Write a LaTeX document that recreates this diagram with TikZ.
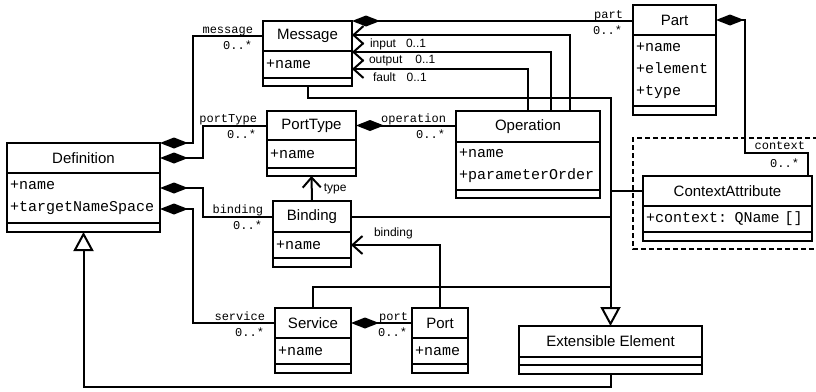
\documentclass[tikz,border=0pt]{standalone}
\usepackage{fontspec}
\setmainfont{Liberation Sans}
\newfontfamily\umlmono{Liberation Mono}
\usepackage{tikz}
\usetikzlibrary{arrows.meta}
\newcommand{\umlname}{\fontsize{15}{18}\selectfont}
\newcommand{\umlattr}{\umlmono\fontsize{15}{22}\selectfont}
\newcommand{\umlrole}{\umlmono\fontsize{12}{14}\selectfont}
\newcommand{\umllbl}{\fontsize{12}{14}\selectfont}
\tikzset{clsname/.style={rectangle, draw, line width=2pt, outer sep=0pt, inner sep=0pt, anchor=north west, font=\umlname}, clsattr/.style={rectangle, draw, line width=2pt, outer sep=0pt, inner xsep=3pt, inner ysep=0pt, anchor=north west, align=left, font=\umlattr}, clsops/.style={rectangle, draw, line width=2pt, outer sep=0pt, inner sep=0pt, anchor=north west}, link/.style={line width=2pt}, comp/.style={link, {Diamond[length=28pt,width=11pt]}-}, navarrow/.style={link, -{Straight Barb[length=10pt,width=18pt]}}, genarrow/.style={link, -{Triangle[length=19pt,width=20pt,fill=white]}}, roletop/.style={font=\umlrole, inner sep=0pt, anchor=base east, xshift=-9pt, yshift=3pt}, rolebot/.style={font=\umlrole, inner sep=0pt, anchor=base east, xshift=-10pt, yshift=-13pt}, navlabel/.style={font=\umllbl, inner sep=0pt, anchor=base west}, ctxframe/.style={line width=2pt, dash pattern=on 5pt off 3pt}}

\begin{document}
\begin{tikzpicture}[x=1pt,y=-1pt]
\useasboundingbox (0,0) rectangle (816,391);
\draw[ctxframe] (818,138) -| (633,249) -- (818,249);
\node[clsname, minimum width=153pt, minimum height=30pt] (def) at (7,143) {Definition};
\node[clsattr, text width=147pt, minimum height=50pt] (defA) at (def.south west) {+name\\+targetNameSpace};
\node[clsops, minimum width=153pt, minimum height=9pt] (defO) at (defA.south west) {};
\node[clsname, minimum width=89pt, minimum height=30pt] (msg) at (263,21) {Message};
\node[clsattr, text width=83pt, minimum height=27pt] (msgA) at (msg.south west) {+name};
\node[clsops, minimum width=89pt, minimum height=8pt] (msgO) at (msgA.south west) {};
\node[clsname, minimum width=89pt, minimum height=29pt] (pt) at (267,111) {PortType};
\node[clsattr, text width=83pt, minimum height=28pt] (ptA) at (pt.south west) {+name};
\node[clsops, minimum width=89pt, minimum height=8pt] (ptO) at (ptA.south west) {};
\node[clsname, minimum width=144pt, minimum height=31pt] (op) at (456,111) {Operation};
\node[clsattr, text width=138pt, minimum height=48pt] (opA) at (op.south west) {+name\\+parameterOrder};
\node[clsops, minimum width=144pt, minimum height=8pt] (opO) at (opA.south west) {};
\node[clsname, minimum width=83pt, minimum height=30pt] (part) at (633,5) {Part};
\node[clsattr, text width=77pt, minimum height=71pt] (partA) at (part.south west) {+name\\+element\\+type};
\node[clsops, minimum width=83pt, minimum height=9pt] (partO) at (partA.south west) {};
\node[clsname, minimum width=169pt, minimum height=30pt] (ctx) at (643,176) {ContextAttribute};
\node[clsattr, text width=163pt, minimum height=26pt] (ctxA) at (ctx.south west) {+context: QName []};
\node[clsops, minimum width=169pt, minimum height=9pt] (ctxO) at (ctxA.south west) {};
\node[clsname, minimum width=78pt, minimum height=31pt] (bnd) at (273,201) {Binding};
\node[clsattr, text width=72pt, minimum height=26pt] (bndA) at (bnd.south west) {+name};
\node[clsops, minimum width=78pt, minimum height=9pt] (bndO) at (bndA.south west) {};
\node[clsname, minimum width=76pt, minimum height=30pt] (svc) at (275,308) {Service};
\node[clsattr, text width=70pt, minimum height=26pt] (svcA) at (svc.south west) {+name};
\node[clsops, minimum width=76pt, minimum height=9pt] (svcO) at (svcA.south west) {};
\node[clsname, minimum width=56pt, minimum height=30pt] (port) at (412,308) {Port};
\node[clsattr, text width=50pt, minimum height=26pt] (portA) at (port.south west) {+name};
\node[clsops, minimum width=56pt, minimum height=9pt] (portO) at (portA.south west) {};
\node[clsname, minimum width=183pt, minimum height=31pt] (ext) at (519,326) {Extensible Element};
\node[clsops, minimum width=183pt, minimum height=8pt] (extA) at (ext.south west) {};
\node[clsops, minimum width=183pt, minimum height=9pt] (extO) at (extA.south west) {};
\draw[comp] (def.north east) -- ++(33,0) |- (msg.west) node[roletop] {message} node[rolebot] {0..*};
\draw[comp] (def.east) -- ++(43,0) |- (pt.west) node[roletop] {portType} node[rolebot] {0..*};
\draw[comp] (defA.east |- 0,188) -- ++(43,0) |- (bnd.west) node[roletop] {binding} node[rolebot] {0..*};
\draw[comp] (defA.east |- 0,209) -- ++(33,0) |- (svc.west) node[roletop] {service} node[rolebot] {0..*};
\draw[comp] (pt.east) -- (op.west |- pt.east) node[roletop] {operation} node[rolebot] {0..*};
\draw[comp] (msg.north east) -- (part.west |- msg.north east) node[roletop] {part} node[rolebot] {0..*};
\draw[comp] (svc.east) -- (port.west |- svc.east) node[roletop, xshift=6pt] {port} node[rolebot, xshift=6pt] {0..*};
\draw[comp] (part.east) -| (745,153) -| (ctx.north -| 808,0) node[roletop, pos=0.5, xshift=7pt, yshift=1pt] {context} node[roletop, xshift=1pt, yshift=6pt] {0..*};
\draw[navarrow] (op.north -| 570,0) |- (msg.east |- 0,35) node[navlabel, xshift=17pt, yshift=-12pt] {input\hspace{10pt}0..1};
\draw[navarrow] (op.north -| 551,0) |- (msg.east |- 0,52) node[navlabel, xshift=16pt, yshift=-11pt] {output\hspace{13pt}0..1};
\draw[navarrow] (op.north -| 528,0) |- (msg.east |- 0,69) node[navlabel, xshift=20pt, yshift=-12pt] {fault\hspace{11pt}0..1};
\draw[navarrow] (bnd.north) -- (ptO.south) node[navlabel, pos=0.4, xshift=11pt] {type};
\draw[navarrow] (port.north) |- (bndA.east) node[navlabel, xshift=22pt, yshift=9pt] {binding};
\draw[link] (bnd.east) -- (bnd.east -| ext.north);
\draw[link] (ctx.west) -- (ctx.west -| ext.north);
\draw[link] (svc.north) |- (ext.north |- 0,287);
\draw[genarrow] (msgO.south) |- (ext.north |- 0,98) -- (ext.north);
\draw[genarrow] (extO.south) -- ++(0,13) -| (defO.south);
\end{tikzpicture}
\end{document}
